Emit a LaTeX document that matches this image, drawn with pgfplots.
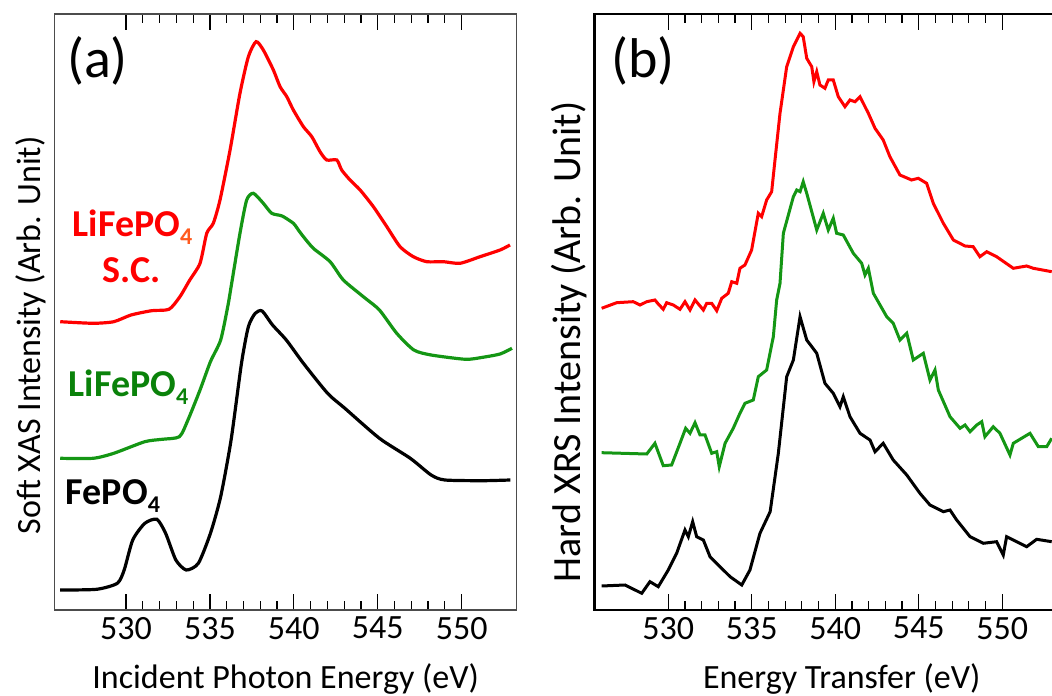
\documentclass[border=0pt]{standalone}
\usepackage{fontspec}
\setmainfont{Carlito}
\usepackage{pgfplots}
\pgfplotsset{compat=1.18}

\definecolor{xred}{RGB}{255,0,0}
\definecolor{xgreen}{RGB}{20,150,20}
\definecolor{lblgreen}{RGB}{10,130,10}
\definecolor{suborange}{RGB}{255,90,30}

\newcommand{\sub}[1]{\raisebox{-4pt}{\fontsize{12}{13}\selectfont #1}}

\pgfplotsset{
  panel/.style={
    scale only axis, anchor=south west, height=298pt,
    ymin=0, ymax=596, ytick=\empty,
    xtick={530,535,540,545,550}, minor x tick num=4,
    tick align=inside, major tick length=8pt, minor tick length=4.5pt,
    every tick/.style={black, line width=0.6pt},
    xticklabel style={font=\fontsize{17}{20}\selectfont, /pgf/number format/assume math mode=true},
    xlabel style={font=\fontsize{17}{20}\selectfont, at={(axis description cs:0.5,-0.131)}, anchor=base},
  },
}

\begin{document}
\begin{tikzpicture}

% (a) soft XAS
\begin{axis}[panel, at={(27.35pt,42.5pt)}, width=231pt,
    xmin=525.75, xmax=553.28,
    axis line style={black!70, line width=0.7pt},
    xlabel={Incident Photon Energy (eV)},
    ylabel={Soft XAS Intensity (Arb. Unit)},
    ylabel style={font=\fontsize{17}{20}\selectfont, at={(axis description cs:-0.03,0.461)}, anchor=base},
  ]
  \addplot[xred, line width=1.6pt, smooth, tension=0.4] coordinates {
    (526.08,288.3) (528.04,286.7) (529.27,288.3) (530.3,295) (531.53,299.3)
    (532.56,300.7) (533.2,313) (533.8,330) (534.41,346.7) (534.81,376.7)
    (535.2,386.7) (535.6,410) (536.2,460) (536.79,516.7) (537.29,553.3)
    (537.75,568.3) (538.18,560) (538.78,540) (539.18,523.3) (539.58,513.3)
    (539.97,500) (540.57,483.3) (541.07,473.3) (541.56,458.3) (541.96,450)
    (542.56,450) (542.85,440) (543.35,430) (543.95,420) (544.74,403.3)
    (545.54,383.3) (546.33,363.3) (547.12,353.3) (547.92,348.3) (548.91,348.3)
    (549.9,346.7) (551.1,353.3) (552.29,360) (552.88,365)
  };
  \addplot[xgreen, line width=1.6pt, smooth, tension=0.4] coordinates {
    (526.08,151.7) (528.04,151.7) (529.27,156.7) (531.12,168.3) (532.15,170.7)
    (533.18,173.3) (533.69,190) (534.41,220) (535.03,248.3) (535.64,270)
    (536.06,303.3) (536.25,322) (536.79,376.7) (537.19,410) (537.59,416.7)
    (538.18,406.7) (538.68,396.7) (539.3,394) (539.97,386.7) (540.27,380)
    (540.57,373.3) (541.16,361.7) (542.16,348.3) (542.95,330) (544.2,312.5)
    (545.1,300) (546.13,276.7) (547.15,260) (548.18,255) (550.23,250.7)
    (551.26,252.7) (552.29,256) (553.0,261.7)
  };
  \addplot[black, line width=1.6pt, smooth, tension=0.4] coordinates {
    (526.08,20) (528.25,20.7) (529.48,26.7) (529.89,40) (530.4,70)
    (531.12,86.7) (531.84,90.7) (532.36,76.7) (532.97,50) (533.59,40)
    (534.31,46.7) (535.03,76.7) (535.64,113.3) (536.26,170) (536.88,246.7)
    (537.29,283.3) (537.7,296.7) (538.11,299) (538.73,285) (539.55,270)
    (540.57,246.7) (542.01,216.7) (543.04,201.7) (545.1,171.7) (546.94,151.7)
    (548.18,135) (549.0,130) (551.26,129.3) (552.9,130)
  };
\end{axis}

% (b) hard XRS
\begin{axis}[panel, at={(297.15pt,42.5pt)}, width=247.4pt,
    xmin=525.57, xmax=555.2,
    axis line style={black, line width=1.3pt},
    xlabel={Energy Transfer (eV)},
    ylabel={Hard XRS Intensity (Arb. Unit)},
    ylabel style={font=\fontsize{20}{24}\selectfont, at={(axis description cs:-0.027,0.45)}, anchor=base},
  ]
  \addplot[xred, line width=1.5pt] coordinates {
    (526.01,301.7) (526.91,307.3) (527.90,308.3) (528.31,305) (528.71,308.3)
    (529.20,310) (529.40,306) (529.70,300.7) (529.90,307.3) (530.30,305)
    (530.70,300.7) (531.0,308.3) (531.30,300) (531.60,310) (532.10,300)
    (532.30,306.7) (532.60,306.7) (532.90,299.3) (533.20,311.7) (533.59,316.7)
    (533.80,328.3) (534.10,326.7) (534.29,341.7) (534.59,345) (534.99,360)
    (535.39,396.7) (535.59,393.3) (535.89,410) (536.19,418.3) (536.39,450)
    (536.69,496.7) (537.09,543.3) (537.49,563.3) (537.89,576.7) (538.08,573.3)
    (538.29,551.7) (538.59,543.3) (538.72,528.3) (538.89,538.3) (539.08,525)
    (539.38,521.7) (539.58,530) (539.88,530) (540.18,513.3) (540.58,503.3)
    (540.88,510) (541.18,508.3) (541.48,513.3) (541.98,496.7) (542.38,481.7)
    (542.87,470) (543.27,453.3) (543.87,435) (544.57,430) (544.97,431.7)
    (545.47,426.7) (545.87,406.7) (546.47,386.7) (547.07,370) (547.77,364)
    (548.26,363.3) (548.66,353.3) (549.07,358.3) (549.66,353.3) (550.66,341.7)
    (551.46,344) (551.86,341.7) (552.96,338.3)
  };
  \addplot[xgreen, line width=1.5pt] coordinates {
    (526.01,157.3) (528.71,156) (529.20,166.7) (529.70,144.3) (530.20,145)
    (530.70,166.7) (531.04,181.7) (531.30,176.7) (531.60,187.3) (531.90,175)
    (532.20,175) (532.60,156.7) (532.90,158.3) (533.05,143.3) (533.40,166.7)
    (533.89,181.7) (534.29,196.7) (534.59,206.7) (535.09,210) (535.39,233.3)
    (535.89,240) (536.29,273.3) (536.49,310) (536.69,326.7) (536.89,376.7)
    (537.49,413.3) (537.69,420) (537.89,418.3) (538.08,428.3) (538.29,416.7)
    (538.89,380) (539.28,396.7) (539.58,380) (539.88,391.7) (540.08,376.7)
    (540.48,375) (541.08,356.7) (541.58,346.7) (541.78,335) (541.98,341.7)
    (542.28,316.7) (543.08,293.3) (543.47,286.7) (543.87,270) (544.28,276.7)
    (544.67,250) (545.27,256.7) (545.67,230) (545.97,240) (546.17,220)
    (546.87,193.3) (547.47,181.7) (547.77,185) (548.07,178.3) (548.47,185)
    (548.77,188.3) (548.96,173.3) (549.46,183.3) (549.86,176.7) (550.46,155)
    (550.66,166.7) (551.66,176.7) (552.16,163.3) (552.66,163.3) (552.96,171.7)
  };
  \addplot[black, line width=1.5pt] coordinates {
    (526.01,24) (527.41,25) (528.41,16.7) (528.90,28.3) (529.40,23.3)
    (530.0,40) (530.50,56.7) (531.0,80) (531.20,73.3) (531.46,88.3)
    (531.70,73.3) (532.10,70) (532.50,53.3) (533.10,43.3) (533.70,33.3)
    (534.40,25) (534.89,40) (535.49,76.7) (536.10,98.3) (536.59,156.7)
    (537.09,233.3) (537.49,250) (537.89,293.3) (538.29,270) (538.89,256.7)
    (539.38,226.7) (539.88,216.7) (540.28,203.3) (540.48,213.3) (540.88,193.3)
    (541.48,176.7) (542.08,170) (542.38,158.3) (542.87,166.7) (543.47,150)
    (544.28,135) (545.07,116.7) (545.67,105) (546.47,98.3) (546.87,100)
    (547.27,90) (548.07,73.3) (548.86,66.7) (549.66,68.3) (550.06,55)
    (550.26,73.3) (551.46,63.3) (552.06,70.7) (552.96,68.3)
  };
\end{axis}

% panel letters and sample names, placed in image pixels
\begin{scope}[x=0.5pt, y=-0.5pt, yshift=347.5pt]
  \node[font=\fontsize{28}{32}\selectfont, inner sep=0] at (97.5,61) {(a)};
  \node[font=\fontsize{28}{32}\selectfont, inner sep=0] at (643,61) {(b)};
  \node[font=\bfseries\fontsize{19}{22}\selectfont, text=xred, anchor=base, inner sep=0]
    at (132.5,236.7) {LiFePO\sub{\color{suborange}4}};
  \node[font=\bfseries\fontsize{19}{22}\selectfont, text=xred, anchor=base, inner sep=0]
    at (131.5,283) {S.C.};
  \node[font=\bfseries\fontsize{19}{22}\selectfont, text=lblgreen, anchor=base, inner sep=0]
    at (128.5,396.7) {LiFePO\sub{4}};
  \node[font=\bfseries\fontsize{19}{22}\selectfont, text=black, anchor=base, inner sep=0]
    at (113,505) {FePO\sub{4}};
\end{scope}

\pgfresetboundingbox
\useasboundingbox (0,0) rectangle (526pt,347.5pt);
\end{tikzpicture}
\end{document}
